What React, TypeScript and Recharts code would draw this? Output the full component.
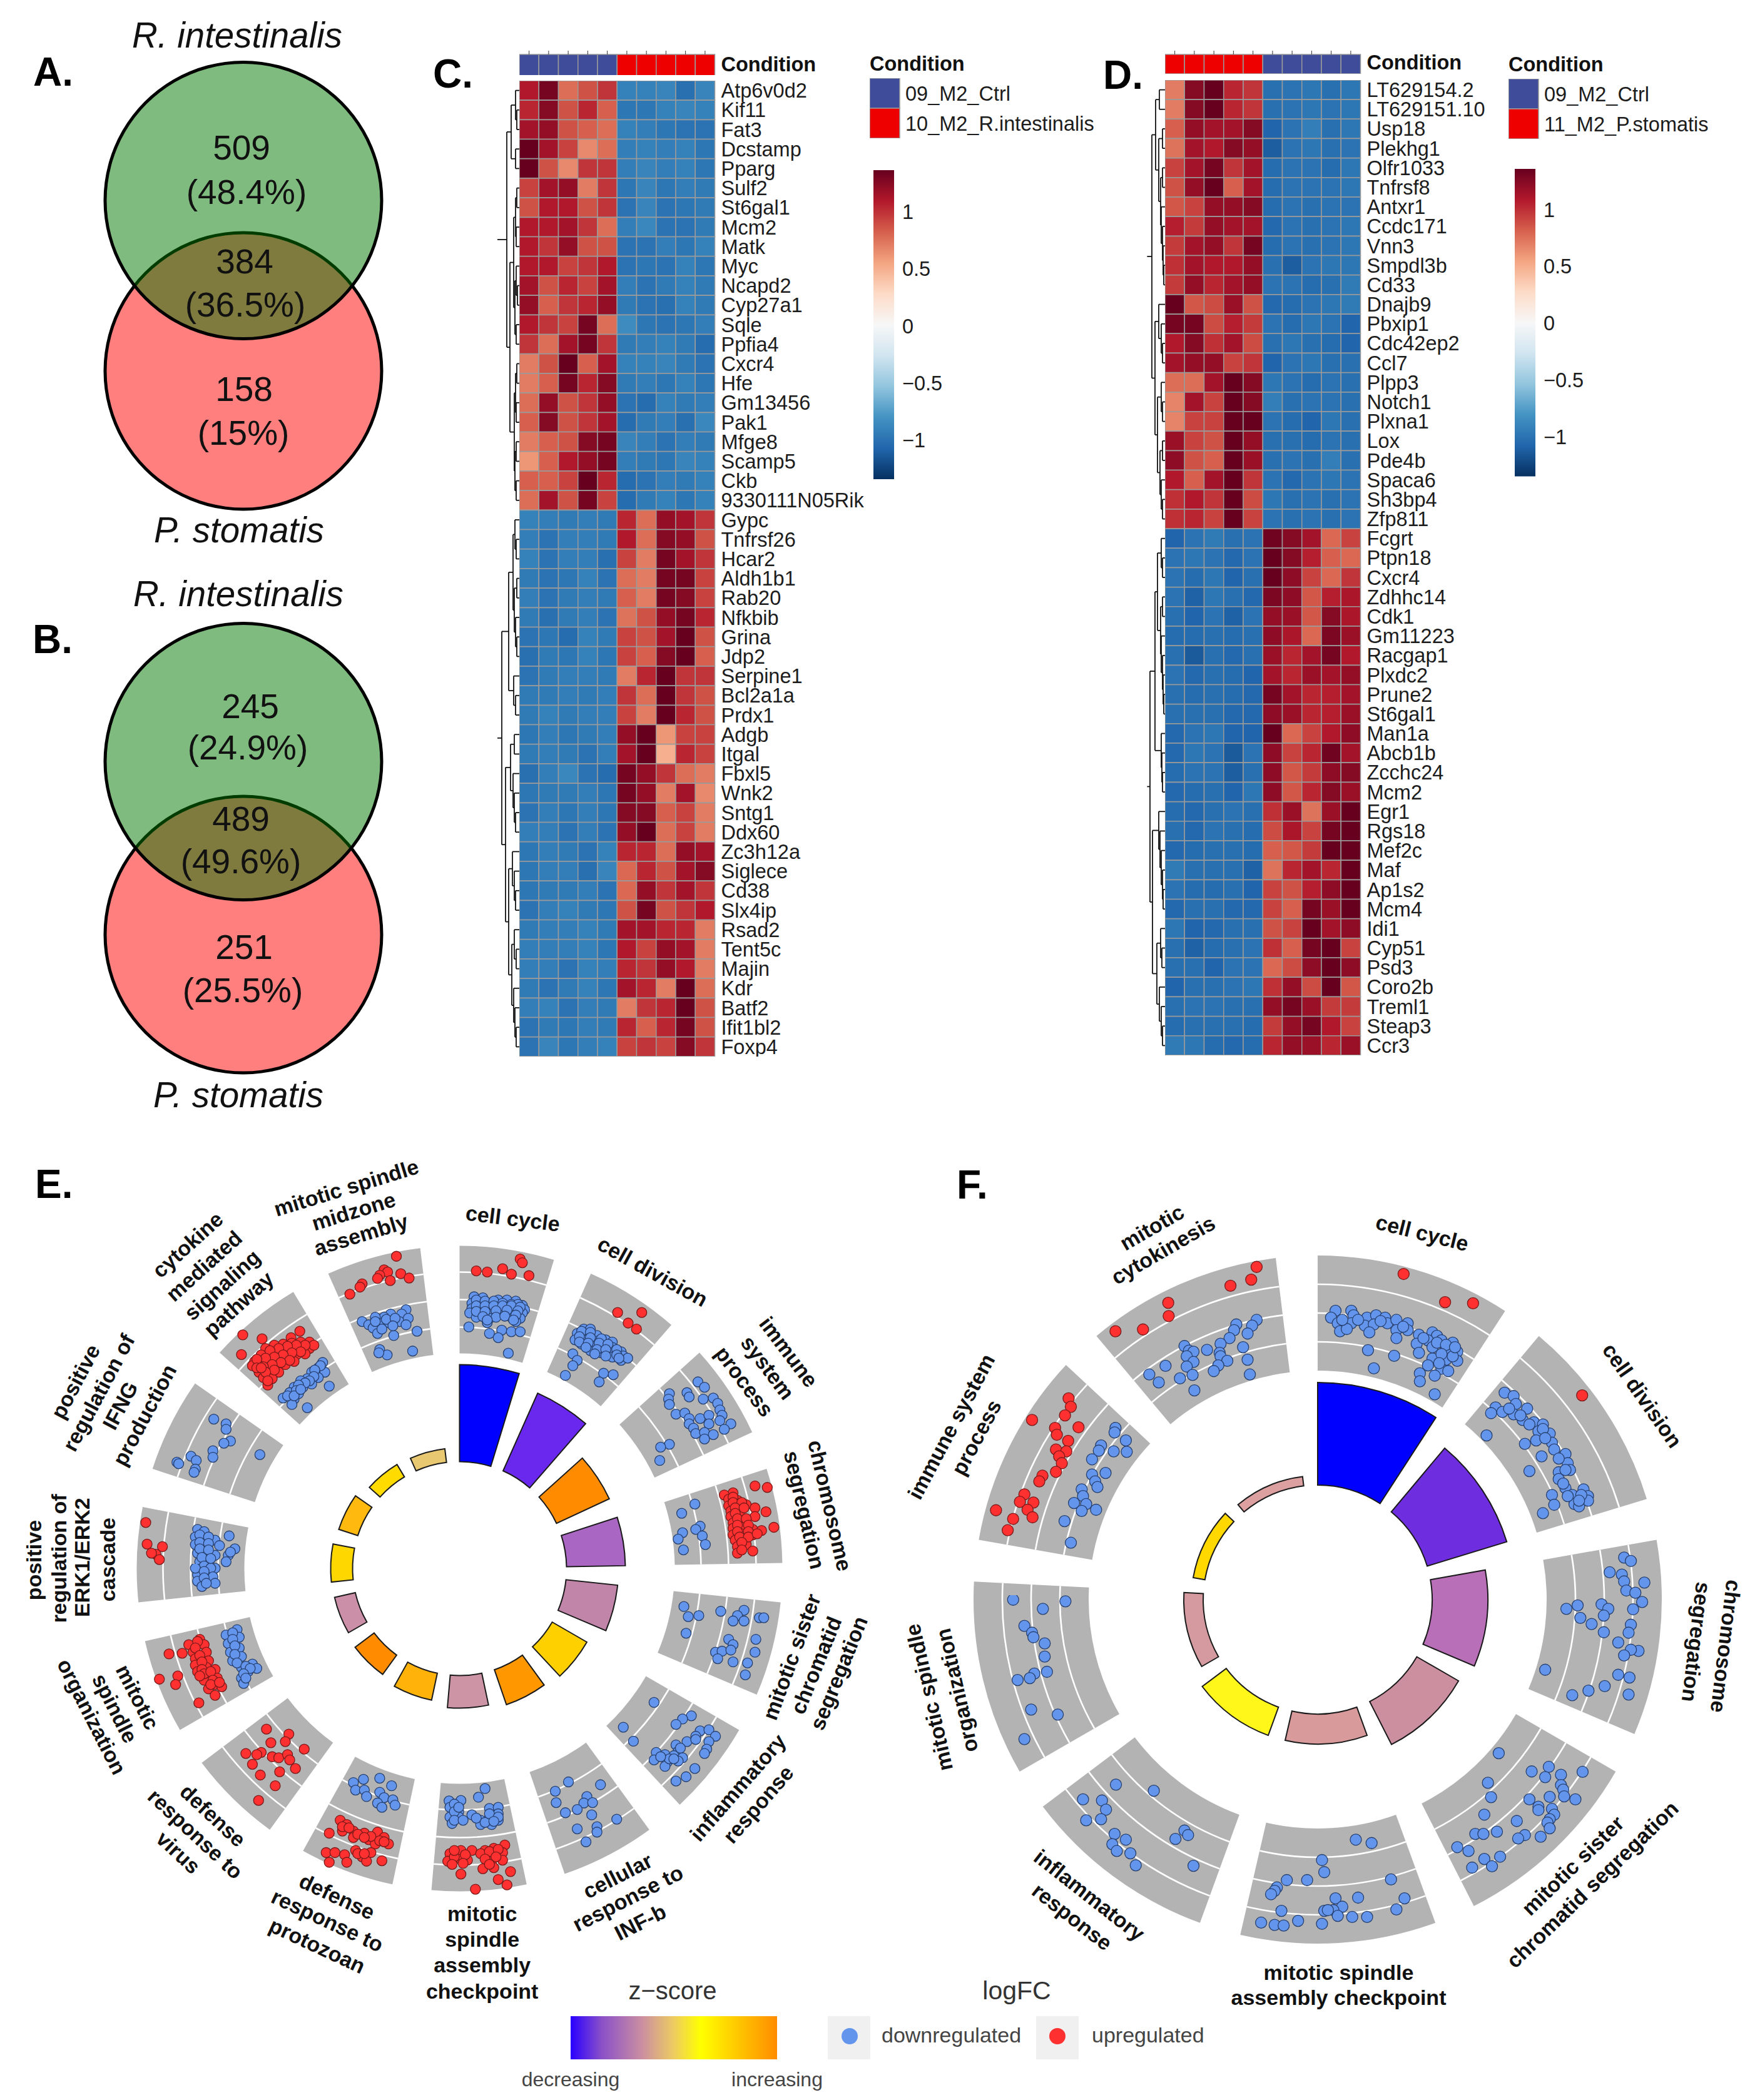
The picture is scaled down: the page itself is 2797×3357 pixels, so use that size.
import React from 'react';
import {
  BarChart, Bar, Cell, XAxis, YAxis, PieChart, Pie, ScatterChart, Scatter, ReferenceLine,
} from 'recharts';

const FONT = '"Liberation Sans", Arial, sans-serif';

// ---- Venn counts
const vennA = [['509', '(48.4%)'], ['384', '(36.5%)'], ['158', '(15%)']];
const vennB = [['245', '(24.9%)'], ['489', '(49.6%)'], ['251', '(25.5%)']];

// ---- Heatmap C
const genesC = ['Atp6v0d2', 'Kif11', 'Fat3', 'Dcstamp', 'Pparg', 'Sulf2', 'St6gal1', 'Mcm2', 'Matk', 'Myc', 'Ncapd2', 'Cyp27a1', 'Sqle', 'Ppfia4', 'Cxcr4', 'Hfe', 'Gm13456', 'Pak1', 'Mfge8', 'Scamp5', 'Ckb', '9330111N05Rik', 'Gypc', 'Tnfrsf26', 'Hcar2', 'Aldh1b1', 'Rab20', 'Nfkbib', 'Grina', 'Jdp2', 'Serpine1', 'Bcl2a1a', 'Prdx1', 'Adgb', 'Itgal', 'Fbxl5', 'Wnk2', 'Sntg1', 'Ddx60', 'Zc3h12a', 'Siglece', 'Cd38', 'Slx4ip', 'Rsad2', 'Tent5c', 'Majin', 'Kdr', 'Batf2', 'Ifit1bl2', 'Foxp4'];
const zC = [
  [1, 1.2, .7, .8, .9, -.92, -.92, -.9, -1.02, -.9],
  [.95, 1.15, .8, .95, .75, -.98, -.98, -.92, -.9, -.92],
  [1.05, 1.1, .8, .75, .7, -.92, -.94, -.98, -1, -1],
  [1.3, 1.05, .85, .6, .7, -.94, -.92, -.94, -.92, -.98],
  [1.3, .8, .6, .9, .9, -.94, -.9, -.94, -.92, -.98],
  [.85, 1.05, 1.1, .65, .9, -.98, -.9, -.98, -.94, -.96],
  [.8, 1, 1, .8, .9, -1, -.9, -1, -.98, -.96],
  [1, 1, 1.05, .9, .7, -.94, -.88, -1, -1, -.96],
  [1, .9, 1.1, .8, .8, -1, -1, -.94, -.98, -.92],
  [1, 1, .85, .9, 1, -1, -.98, -1, -.92, -.98],
  [1.05, .8, .95, .85, 1.05, -.94, -1, -.96, -.92, -.96],
  [1.1, .75, .9, .95, 1.1, -.96, -1, -1.02, -.92, -.96],
  [1, .9, .85, 1.2, .7, -.86, -.98, -1, -.98, -.94],
  [.9, .7, 1.05, 1.2, .9, -.96, -.94, -.92, -.96, -1.04],
  [.65, .8, 1.3, .75, 1.05, -.92, -.92, -.9, -.96, -1],
  [.65, .75, 1.2, .95, 1.15, -.96, -.94, -.98, -.92, -.98],
  [.7, 1.1, .8, .9, 1.1, -1, -1.04, -.92, -.96, -.94],
  [.75, 1.15, .8, .9, 1.05, -1.04, -.96, -.94, -1.02, -.88],
  [.65, .75, .8, 1.15, 1.2, -.9, -.94, -1, -.94, -.96],
  [.55, .75, 1, 1.1, 1.2, -.94, -.96, -.98, -.9, -.92],
  [.75, .75, .85, 1.25, .95, -1.04, -1, -.94, -.96, -.92],
  [.7, 1.05, .8, 1.2, .85, -1.04, -.96, -.92, -.98, -.92],
  [-.92, -.94, -.96, -.94, -.96, .95, .7, 1.1, 1.05, .9],
  [-.94, -1, -.94, -.94, -.96, 1, .7, 1.15, 1.1, .8],
  [-.92, -1, -.94, -.94, -1.02, .85, .65, 1.2, 1.05, .9],
  [-.96, -1, -.98, -.92, -1, .7, .65, 1.2, 1.2, .85],
  [-.94, -1, -.96, -.94, -.96, .75, .65, 1.2, 1.15, .85],
  [-.96, -1.02, -.96, -.94, -1, .68, .8, 1.1, 1.2, .95],
  [-1, -.98, -1.04, -.92, -.96, .85, .8, 1.05, 1.25, .8],
  [-1.02, -.96, -.98, -.92, -.98, .85, .75, 1.15, 1.25, .75],
  [-1, -.96, -.94, -.94, -.96, .65, .95, 1.25, .9, .9],
  [-.96, -.96, -.94, -.96, -.94, .9, .7, 1.4, .9, .8],
  [-.96, -.92, -.96, -.94, -.94, .85, .65, 1.4, .95, .8],
  [-.98, -.94, -.98, -.96, -.94, 1.1, 1.25, .55, .85, .85],
  [-.96, -.94, -.96, -1, -.94, 1.05, 1.3, .45, .95, .85],
  [-1.02, -.94, -.88, -1, -1.04, 1.2, 1.1, .9, .7, .65],
  [-.98, -.96, -.96, -.94, -.98, 1.2, 1.1, .65, 1.05, .6],
  [-1, -.94, -.98, -.94, -.98, 1.15, 1.15, .75, .85, .65],
  [-.94, -.94, -1, -.94, -1, 1.1, 1.25, .7, .85, .65],
  [-.98, -.94, -.96, -1, -.92, .95, .95, .7, 1.1, 1.05],
  [-.98, -.94, -.94, -1.02, -.9, .72, .95, .8, 1.05, 1.15],
  [-.98, -.96, -.96, -.94, -1, .72, 1.1, .9, 1.05, .9],
  [-1, -.94, -.92, -.96, -.98, .8, 1.2, .8, .9, 1],
  [-.96, -.94, -.94, -.92, -.96, 1.05, 1.05, .95, .95, .65],
  [-.94, -.94, -.94, -.92, -.98, 1, .85, 1.1, 1.05, .65],
  [-.94, -.94, -1, -.92, -.94, .95, .9, 1.1, 1, .65],
  [-.96, -1, -.96, -.92, -.98, 1.05, .95, .65, 1.25, .7],
  [-.94, -.92, -1, -.94, -.96, .65, .9, .95, 1.25, .8],
  [-1, -.96, -.98, -.94, -.96, .95, .75, .95, 1.2, .8],
  [-1, -.9, -.98, -.94, -.92, .85, .9, .85, 1.15, .9],
];

// ---- Heatmap D
const genesD = ['LT629154.2', 'LT629151.10', 'Usp18', 'Plekhg1', 'Olfr1033', 'Tnfrsf8', 'Antxr1', 'Ccdc171', 'Vnn3', 'Smpdl3b', 'Cd33', 'Dnajb9', 'Pbxip1', 'Cdc42ep2', 'Ccl7', 'Plpp3', 'Notch1', 'Plxna1', 'Lox', 'Pde4b', 'Spaca6', 'Sh3bp4', 'Zfp811', 'Fcgrt', 'Ptpn18', 'Cxcr4', 'Zdhhc14', 'Cdk1', 'Gm11223', 'Racgap1', 'Plxdc2', 'Prune2', 'St6gal1', 'Man1a', 'Abcb1b', 'Zcchc24', 'Mcm2', 'Egr1', 'Rgs18', 'Mef2c', 'Maf', 'Ap1s2', 'Mcm4', 'Idi1', 'Cyp51', 'Psd3', 'Coro2b', 'Treml1', 'Steap3', 'Ccr3'];
const zD = [
  [.65, 1.15, 1.35, .95, .9, -1.02, -1, -.98, -1.02, -.98],
  [.65, 1.15, 1.35, .95, .9, -1.02, -1, -.98, -1, -.98],
  [.75, 1.1, 1.05, 1.05, 1.15, -1.08, -1, -.94, -1.02, -.98],
  [.68, 1.05, 1, 1.15, 1.1, -1.12, -1, -.98, -1.02, -1],
  [.85, 1.05, 1.2, .9, 1.05, -1.04, -1, -1, -1.04, -.98],
  [.8, 1.1, 1.25, .75, 1.05, -1.04, -1, -1, -1, -.98],
  [.78, .85, 1.1, 1.1, 1.15, -1.04, -1, -1.02, -1, -1],
  [.98, .88, 1.1, 1.05, 1.05, -1.06, -1, -1.02, -1, -.98],
  [.88, 1.05, 1.1, .9, 1.2, -1.04, -1, -1.02, -1, -.98],
  [.92, 1.05, 1, 1, 1.1, -1.02, -1.12, -1, -.98, -.98],
  [.88, 1.1, .95, 1.05, 1.1, -1, -1, -1.04, -1.02, -.96],
  [1.35, .78, .82, 1.08, .8, -1.06, -1.04, -1, -.98, -.96],
  [1.2, 1.2, .82, .98, .88, -1, -1.04, -.98, -1, -1.08],
  [1, 1.15, .92, 1.05, .82, -1.02, -.98, -1.02, -1.04, -1.08],
  [1.05, 1.1, 1.1, .85, .9, -1.08, -1, -.98, -1.02, -1.02],
  [.7, .7, 1.05, 1.3, 1.15, -.98, -1, -1.04, -1, -1.02],
  [.62, 1.05, .85, 1.3, 1.15, -.94, -1.02, -1, -1, -1.02],
  [.62, .85, .85, 1.3, 1.3, -1, -1.04, -1.08, -.98, -1.02],
  [1.08, .85, .8, 1.25, 1.1, -1.02, -1.02, -1.04, -1, -1.02],
  [1.12, .8, .75, 1.28, 1.08, -1.02, -1, -1.02, -.94, -1.02],
  [1, .75, 1.05, 1.35, .9, -1, -1.06, -1, -.98, -1],
  [.92, 1, .9, 1.28, .82, -.98, -1.02, -1, -1.02, -1],
  [.92, .95, .85, 1.25, .85, -1, -1.02, -1, -1.02, -1],
  [-1.08, -1, -.96, -1.02, -1, 1.22, 1.15, 1.05, .72, .85],
  [-1, -.98, -1, -1.06, -1, 1.35, 1.15, .98, .75, .72],
  [-1, -1.04, -.98, -1.08, -1.02, 1.38, 1.12, .85, .72, .9],
  [-1, -1.1, -.98, -1.02, -1.06, 1.18, 1.12, .78, .98, 1.02],
  [-1.02, -1.08, -1, -1.1, -1, 1.1, 1.08, .78, 1.15, 1.02],
  [-1.04, -1.04, -1.02, -1.04, -1.02, 1.12, 1.02, .72, 1.18, 1.08],
  [-1.02, -1.14, -1.02, -1.06, -1.02, 1.08, .95, 1.05, 1.2, 1],
  [-1, -1.06, -1.02, -1.04, -1.08, 1.05, .95, 1.08, 1.05, 1.1],
  [-1.02, -1.04, -1.02, -1.04, -1.06, 1.2, 1.05, .95, .98, 1.05],
  [-1.02, -1.02, -1.02, -1.06, -1.06, 1.12, 1.08, .95, .98, 1.08],
  [-1.06, -1, -.98, -1.08, -1.08, 1.3, .72, .85, 1, 1.12],
  [-1.06, -.98, -1, -1.14, -1, 1.12, .85, .95, 1.22, 1.05],
  [-1.04, -1, -1, -1.12, -1.02, 1.12, .78, .88, 1.12, 1.15],
  [-1.06, -1.04, -1.02, -1.08, -.98, 1.12, .78, .95, 1.15, 1.08],
  [-1.04, -1.06, -1.02, -1, -1.02, .92, 1.08, .68, 1.08, 1.28],
  [-1.02, -1.06, -1, -1.02, -1.04, .82, 1.02, .85, 1.2, 1.28],
  [-1.06, -1.04, -1.02, -1.02, -1.04, .75, .78, .88, 1.25, 1.35],
  [-.96, -1.02, -1.02, -1.02, -1.1, .68, .95, 1.05, .95, 1.38],
  [-1, -1.04, -1.04, -1.02, -1.08, .85, .8, .98, 1.12, 1.38],
  [-1.06, -1.02, -1.02, -1.06, -1.06, .85, .75, 1.2, 1.08, 1.25],
  [-.98, -1.08, -1.06, -1.02, -1.02, .8, .85, 1.32, 1.05, 1.12],
  [-1.02, -1.1, -1.04, -1.02, -1, .92, .75, 1.2, 1.28, .85],
  [-1.02, -1.02, -1.08, -1, -1, .72, .82, 1.12, 1.28, 1.12],
  [-1.08, -1.02, -1.02, -1, -.98, .92, 1.1, .82, 1.4, .78],
  [-1.02, -1, -1, -1.02, -1.02, 1.1, 1.2, 1.08, .88, .88],
  [-1.04, -1.02, -1.02, -1.02, -1.04, .88, 1.1, 1.2, 1, .85],
  [-.96, -.98, -1.04, -1.06, -1.04, .95, 1.1, 1.08, .95, 1.08],
];

const conditionC = ['Ctrl', 'Ctrl', 'Ctrl', 'Ctrl', 'Ctrl', 'Treated', 'Treated', 'Treated', 'Treated', 'Treated'];
const conditionD = ['Treated', 'Treated', 'Treated', 'Treated', 'Treated', 'Ctrl', 'Ctrl', 'Ctrl', 'Ctrl', 'Ctrl'];
const zTicks = [-1, -0.5, 0, 0.5, 1];
const rdBu = ['#053061', '#2166AC', '#4393C3', '#92C5DE', '#D1E5F0', '#F7F7F7', '#FDDBC7', '#F4A582', '#D6604D', '#B2182B', '#67001F'];

// ---- Dendrograms, nested merges [height, upper, lower], 0 is a leaf
const L: any = 0;
const m = (h: number, a: any, b: any) => [h, a, b];
const treesC = [
  m(20,
    m(13, m(6, L, m(4, L, L)), m(6, L, L)),
    m(15,
      m(9, m(6, m(4, L, L), m(5, L, L)), m(7, m(5, L, m(3, L, L)), m(5, L, L))),
      m(8, m(6, m(4, L, L), m(5, L, L)), m(7, m(5, L, L), m(5, L, L))))),
  m(28,
    m(17,
      m(10, m(7, L, m(5, L, L)), m(8, m(4, L, L), m(6, L, m(4, L, L)))),
      m(9, L, m(6, L, L))),
    m(22,
      m(14, m(8, L, L), m(10, L, m(8, L, m(6, L, L)))),
      m(17, m(11, L, m(8, L, m(6, L, L))), m(12, m(8, L, m(5, L, L)), m(9, L, m(7, L, m(5, L, L))))))),
];
const treesD = [
  m(21,
    m(15, m(9, L, L), m(10, m(4, L, L), m(7, m(4, L, L), m(6, L, m(4, L, m(3, L, m(2, L, L))))))),
    m(16, m(10, L, m(6, L, m(4, L, L))), m(12, m(6, L, m(4, L, L)), m(8, m(4, L, L), m(6, L, m(4, L, L)))))),
  m(24,
    m(16,
      m(12, m(6, L, m(4, L, L)), m(7, m(4, L, L), m(6, L, m(4, L, m(3, L, m(2, L, L)))))),
      m(6, L, m(5, L, m(4, L, L)))),
    m(20,
      m(10, L, m(8, L, m(6, L, m(4, L, m(3, L, L))))),
      m(13, m(7, L, m(5, L, L)), m(9, L, m(6, L, m(4, L, L)))))),
];

// ---- GO circle E (bar heights above the inner circle, logFC dots)
const eBarTop = [326, 307, 264, 265, 254, 235, 230, 223, 215, 209, 205, 206, 203, 194, 193];
const eBarColors = ['#0000FF', '#6A28EE', '#FF8C00', '#A966C2', '#C185AA', '#FFD000', '#FF9800', '#CD94A6', '#FFB30A', '#FF8C00', '#CC8FA8', '#FFD700', '#FFB90F', '#FFDB00', '#E8C870'];
const eGrid = [386, 430, 474];
const fBarTop = [347, 316, 272, 260, 231, 231, 214, 202, 198];
const fBarColors = ['#0000FF', '#6F2DE0', '#B86FB8', '#CC8FA0', '#D89A9A', '#FFF61A', '#D49AA0', '#FFD800', '#DDA0A0'];
const fGrid = [412, 458, 504];

const eTopUp = [[618, 82], [590, 145], [598, 155], [580, 170], [575, 185], [604, 195], [628, 163], [647, 183], [540, 210], [535, 225], [512, 258],
  [800, 150], [825, 155], [860, 140], [880, 165], [900, 95], [905, 112], [920, 172], [1122, 343], [1177, 343], [1146, 392], [1165, 420],
  [1385, 1180], [1365, 1190], [1375, 1210], [1395, 1215], [1375, 1240], [1395, 1240], [1415, 1235], [1380, 1265], [1400, 1260], [1435, 1250], [1380, 1290], [1400, 1285], [1435, 1290], [1385, 1320], [1405, 1310], [1385, 1345], [1405, 1340], [1430, 1350], [1385, 1375], [1405, 1370], [1430, 1375], [1450, 1355], [1390, 1400], [1410, 1395], [1395, 1430], [1415, 1420], [1395, 1460], [1430, 1450], [1435, 1148], [1463, 1155], [1460, 1268], [1478, 1340],
  [1385, 1200], [1385, 1225], [1405, 1225], [1390, 1250], [1410, 1250], [1390, 1275], [1395, 1300], [1415, 1300], [1395, 1330], [1420, 1330], [1395, 1360], [1420, 1360], [1400, 1385], [1420, 1385], [1405, 1410], [1405, 1445], [1440, 1370],
  [268, 447], [312, 465], [398, 430], [378, 460], [265, 538], [420, 480], [400, 480], [380, 485], [360, 490], [340, 495], [320, 510], [420, 510], [400, 510], [380, 510], [360, 520], [340, 530], [310, 540], [295, 570], [290, 590], [410, 535], [390, 540], [370, 550], [350, 560], [330, 570], [310, 575], [385, 570], [365, 585], [345, 595], [325, 600], [305, 620], [350, 620], [330, 630], [315, 645], [335, 650], [325, 680],
  [430, 495], [410, 495], [390, 495], [370, 500], [350, 510], [330, 520], [400, 525], [380, 530], [360, 540], [340, 550], [320, 555], [300, 560], [375, 565], [355, 575], [335, 585], [315, 595], [300, 600], [340, 610], [320, 620], [325, 660], [310, 600],
  [47, 1318], [50, 1418], [85, 1430], [70, 1465], [78, 1490], [60, 1460]];
const eTopDown = [[640, 330], [630, 350], [605, 350], [590, 365], [570, 365], [540, 385], [555, 400], [580, 395], [600, 390], [625, 385], [645, 370], [640, 400], [665, 430], [565, 415], [575, 440], [612, 450], [580, 515], [597, 540], [578, 530], [655, 522], [595, 375], [615, 370], [570, 385], [610, 405], [585, 420],
  [795, 270], [815, 275], [790, 300], [810, 300], [830, 300], [850, 285], [870, 285], [890, 290], [905, 310], [790, 325], [810, 325], [830, 325], [850, 320], [870, 320], [890, 325], [910, 330], [785, 345], [810, 350], [835, 350], [860, 345], [880, 345], [905, 345], [800, 365], [830, 370], [880, 365], [900, 370], [825, 390], [890, 385], [783, 410], [830, 440], [858, 425], [880, 432], [900, 432], [850, 460], [873, 532],
  [800, 285], [820, 290], [840, 290], [860, 300], [880, 305], [895, 305], [800, 312], [820, 312], [840, 312], [860, 312], [880, 312], [900, 318], [800, 338], [820, 338], [845, 335], [870, 332], [895, 335], [815, 362], [845, 365], [865, 360], [890, 355], [825, 378], [885, 378],
  [1045, 420], [1060, 420], [1030, 440], [1050, 445], [1075, 450], [1025, 470], [1045, 470], [1070, 475], [1095, 470], [1110, 480], [1040, 490], [1065, 500], [1085, 500], [1110, 505], [1130, 525], [1060, 520], [1085, 530], [1105, 530], [1135, 545], [1020, 535], [1030, 565], [1110, 550], [1130, 565], [1145, 555], [1020, 590], [1003, 635], [1090, 625], [1112, 632], [1080, 665],
  [1040, 430], [1035, 455], [1060, 435], [1060, 460], [1085, 465], [1035, 480], [1055, 485], [1080, 485], [1100, 490], [1050, 505], [1075, 515], [1095, 515], [1120, 515], [1070, 535], [1095, 545], [1120, 540], [1125, 555],
  [1305, 665], [1320, 690], [1240, 720], [1238, 745], [1240, 770], [1280, 715], [1285, 735], [1317, 745], [1340, 740], [1350, 765], [1255, 815], [1275, 810], [1285, 835], [1310, 835], [1330, 820], [1355, 795], [1360, 820], [1355, 845], [1380, 860], [1365, 885], [1285, 860], [1295, 880], [1330, 860], [1300, 905], [1320, 900], [1340, 910], [1320, 930], [1240, 955], [1220, 968], [1218, 1030],
  [1298, 1232], [1268, 1275], [1310, 1335], [1300, 1350], [1315, 1380], [1322, 1420], [1270, 1365], [1260, 1395], [1272, 1445],
  [450, 575], [440, 600], [455, 620], [425, 620], [440, 645], [415, 650], [400, 660], [425, 675], [405, 690], [385, 690], [465, 685], [395, 720], [375, 715], [360, 740], [385, 745], [380, 770], [415, 785],
  [445, 590], [432, 610], [430, 640], [420, 660], [410, 670], [395, 680], [390, 705], [370, 730], [385, 730], [400, 700],
  [202, 838], [230, 860], [230, 885], [240, 940], [225, 950], [200, 985], [200, 1015], [150, 1010], [162, 1030], [118, 1038], [122, 1045], [160, 1070], [157, 1085], [307, 1003],
  [165, 1350], [180, 1360], [160, 1385], [175, 1400], [205, 1400], [215, 1425], [237, 1380], [250, 1440], [235, 1470], [230, 1500], [160, 1420], [180, 1430], [165, 1460], [185, 1465], [170, 1500], [190, 1500], [205, 1470], [165, 1535], [190, 1540], [205, 1530],
  [170, 1375], [190, 1385], [170, 1410], [190, 1415], [170, 1440], [190, 1445], [175, 1480], [195, 1485], [180, 1520], [175, 1550], [240, 1455]];
const eLowDown = [[165, 50], [195, 20], [165, 80], [200, 60], [175, 105], [205, 90], [160, 20], [180, 35], [180, 65], [185, 90],
  [1273, 198], [1283, 245], [1307, 240], [1278, 322], [1357, 220], [1410, 215], [1395, 240], [1385, 265], [1410, 265], [1445, 250], [1455, 250], [1375, 350], [1385, 375], [1437, 350], [1345, 410], [1360, 405], [1380, 400], [1350, 440], [1385, 455], [1435, 410], [1418, 460], [1413, 515],
  [1205, 643], [1135, 758], [1158, 823], [1290, 705], [1270, 720], [1255, 745], [1310, 775], [1330, 770], [1345, 800], [1300, 800], [1280, 825], [1255, 840], [1330, 825], [1325, 860], [1320, 880], [1260, 870], [1210, 875], [1230, 885], [1250, 890], [1270, 900], [1205, 910], [1235, 920], [1260, 915], [1230, 940], [1298, 950], [1278, 988], [1255, 1008], [1240, 905], [1250, 905], [1220, 895], [1300, 815], [1265, 855],
  [1010, 1012], [1083, 1025], [980, 1055], [982, 1108], [1003, 1155], [1052, 1080], [1045, 1110], [1065, 1108], [1030, 1140], [1063, 1165], [1120, 1185], [1075, 1220], [1075, 1245], [1030, 1230], [1050, 1290],
  [820, 1043], [805, 1083], [765, 1098], [738, 1100], [740, 1130], [760, 1150], [740, 1175], [760, 1175], [790, 1165], [830, 1135], [850, 1130], [850, 1160], [810, 1190], [830, 1180], [850, 1190], [810, 1210], [835, 1210], [745, 1205],
  [750, 1115], [750, 1150], [750, 1190], [770, 1190], [800, 1180], [820, 1200], [830, 1160], [850, 1175], [840, 1195], [760, 1130],
  [520, 1015], [543, 1000], [580, 995], [607, 1030], [525, 1050], [545, 1050], [580, 1060], [550, 1080], [590, 1085], [575, 1110], [610, 1095], [615, 1120], [585, 1130],
  [255, 305], [230, 330], [260, 340], [235, 370], [260, 390], [240, 410], [265, 430], [245, 450], [265, 480], [290, 465], [300, 485], [280, 500], [265, 530], [270, 555],
  [245, 320], [245, 350], [250, 380], [250, 420], [255, 460], [275, 475], [285, 485], [270, 510], [275, 530]];
const eLowUp = [[740, 1345], [765, 1330], [790, 1330], [735, 1380], [765, 1370], [780, 1375], [820, 1330], [840, 1320], [865, 1305], [830, 1350], [860, 1340], [835, 1380], [860, 1375], [815, 1415], [840, 1410], [765, 1440], [878, 1428], [850, 1465], [870, 1490], [798, 1510],
  [750, 1360], [775, 1350], [750, 1330], [810, 1345], [830, 1335], [850, 1325], [845, 1360], [820, 1370], [830, 1395], [745, 1395], [770, 1390],
  [490, 1190], [505, 1210], [495, 1240], [520, 1240], [545, 1250], [575, 1245], [590, 1270], [465, 1250], [520, 1270], [555, 1280], [600, 1300], [570, 1300], [458, 1340], [478, 1340], [525, 1330], [560, 1340], [540, 1360], [550, 1380], [500, 1350], [505, 1385], [465, 1385], [585, 1378],
  [495, 1220], [510, 1225], [530, 1255], [560, 1265], [580, 1285], [590, 1290], [545, 1270], [530, 1345], [545, 1345],
  [322, 767], [373, 790], [365, 825], [332, 830], [408, 860], [275, 880], [310, 875], [300, 885], [335, 895], [350, 900], [370, 885], [375, 910], [388, 950], [290, 930], [308, 980], [352, 965], [342, 1030], [304, 1098],
  [170, 350], [145, 375], [180, 375], [130, 415], [155, 410], [185, 410], [160, 440], [190, 450], [160, 470], [185, 480], [205, 490], [165, 500], [190, 520], [210, 530], [180, 540], [205, 560], [220, 570], [190, 580], [205, 610], [100, 418], [120, 520], [115, 560], [78, 535], [168, 645],
  [165, 360], [160, 390], [170, 425], [175, 455], [175, 490], [180, 510], [195, 500], [200, 540], [195, 560], [170, 520], [215, 550]];

const fTopUp = [[650, 97], [638, 153], [592, 180], [454, 255], [455, 313], [398, 372], [337, 380], [976, 128], [1068, 252], [1130, 257], [1372, 662],
  [233, 675], [238, 712], [225, 750], [152, 770], [255, 802], [203, 805], [207, 835], [232, 862], [205, 900], [228, 908], [212, 930], [218, 960], [205, 998], [175, 1015], [168, 1040], [135, 1097], [125, 1130], [155, 1133], [142, 1165], [72, 1167], [110, 1205], [153, 1198], [98, 1255]];
const fTopDown = [[650, 330], [640, 355], [630, 390], [605, 350], [600, 375], [590, 410], [570, 435], [540, 462], [490, 445], [500, 465], [510, 470], [495, 490], [510, 515], [495, 535], [620, 450], [568, 475], [570, 490], [585, 510], [565, 530], [555, 555], [630, 505], [635, 570], [448, 532], [412, 570], [433, 605], [480, 587], [508, 572], [512, 640],
  [825, 290], [815, 320], [830, 345], [835, 380], [860, 290], [865, 310], [860, 345], [850, 370], [895, 320], [915, 310], [935, 320], [890, 355], [910, 350], [900, 385], [940, 345], [960, 330], [985, 345], [960, 375], [985, 375], [960, 410], [1010, 395], [1005, 435], [1010, 475], [1040, 385], [1050, 400], [1030, 420], [1060, 420], [1085, 430], [1040, 450], [1070, 460], [1095, 470], [1095, 510], [1040, 500], [1070, 505], [1060, 545], [1075, 555], [1045, 575], [1030, 530], [1012, 565], [1012, 600], [897, 463], [955, 488], [910, 543], [1045, 657],
  [840, 330], [875, 330], [925, 335], [975, 360], [1020, 410], [1050, 430], [1070, 440], [1060, 480], [1085, 490], [1055, 520], [1090, 450],
  [1200, 650], [1220, 665], [1180, 715], [1170, 740], [1195, 735], [1225, 700], [1220, 745], [1250, 720], [1240, 770], [1265, 780], [1285, 790], [1245, 875], [1275, 820], [1270, 860], [1300, 830], [1305, 870], [1160, 838], [1282, 930], [1310, 900], [1335, 920], [1340, 960], [1320, 1000], [1345, 990], [1255, 995], [1320, 1030], [1335, 1070], [1375, 1075], [1385, 1105], [1305, 1100], [1350, 1100], [1385, 1125], [1355, 1140], [1310, 1143], [1285, 1180], [1365, 1150],
  [1210, 720], [1235, 750], [1255, 790], [1285, 810], [1290, 850], [1320, 940], [1335, 990], [1330, 1050], [1370, 1100], [1340, 1105], [1365, 1125],
  [1465, 1375], [1480, 1390], [1433, 1440], [1460, 1450], [1465, 1480], [1510, 1485], [1470, 1520], [1490, 1530],
  [337, 805], [335, 825], [360, 860], [305, 882], [300, 905], [333, 908], [362, 910], [285, 943], [315, 1003], [285, 1010], [292, 1040], [262, 1075], [297, 1065], [265, 1105], [245, 1135], [272, 1140], [262, 1170], [294, 1165], [224, 1215], [238, 1310]];
const fLowDown = [[1337, 60], [1362, 45], [1368, 100], [1393, 127], [1420, 163], [1415, 40], [1430, 60], [1420, 90], [1505, 30], [1485, 62], [1480, 130], [1475, 165], [1452, 208], [1497, 245], [1480, 240], [1465, 265], [1290, 328], [1452, 350], [1477, 362], [1422, 400], [1386, 420], [1350, 440], [1475, 437],
  [110, 20], [226, 27], [176, 60], [135, 135], [152, 165], [155, 185], [180, 212], [180, 270], [185, 337], [157, 345], [147, 365], [120, 373], [150, 503], [209, 525], [135, 633],
  [1187, 695], [1298, 755], [1260, 775], [1325, 790], [1290, 800], [1373, 777], [1163, 825], [1325, 835], [1330, 855], [1170, 888], [1255, 898], [1300, 887], [1332, 885], [1357, 898], [1275, 930], [1275, 945], [1305, 940], [1155, 965], [1310, 965], [1300, 985], [1227, 993], [1295, 1000], [1300, 1025], [1135, 1050], [1153, 1050], [1183, 1040], [1245, 1055], [1230, 1070], [1280, 1062], [1095, 1108], [1120, 1125], [1155, 1160], [1190, 1150], [1172, 1192], [1128, 1198],
  [870, 1075], [905, 1090], [795, 1165], [800, 1218], [717, 1253], [762, 1253], [695, 1285], [690, 1300], [682, 1315], [948, 1250], [825, 1333], [875, 1330], [978, 1333], [960, 1382], [840, 1370], [820, 1385], [800, 1388], [808, 1385], [830, 1410], [705, 1388], [862, 1415], [895, 1415], [742, 1432], [795, 1445], [660, 1440], [690, 1450], [710, 1453],
  [338, 833], [422, 860], [265, 898], [307, 903], [316, 943], [272, 990], [305, 985], [335, 1050], [360, 1075], [470, 1072], [490, 1035], [498, 1055], [330, 1095], [340, 1125], [370, 1135], [382, 1188], [510, 1190]];

// term labels: text, centre in the crop units, rotation
const eLabels: [string, number, number, number][] = [
  ['cell cycle', 905, 143, 7], ['cell division', 1152, 238, 29],
  ['immune', 1392, 382, 53], ['system', 1355, 410, 53], ['process', 1314, 435, 53],
  ['chromosome', 1465, 657, 77], ['segregation', 1420, 665, 77],
  ['mitotic sister', 1397, 928, -70], ['chromatid', 1440, 943, -68], ['segregation', 1480, 957, -68],
  ['inflammatory', 1302, 1162, -49], ['response', 1338, 1192, -49],
  ['cellular', 1090, 1320, -27], ['response to', 1108, 1360, -27], ['INF-b', 1130, 1403, -27],
  ['mitotic', 851, 1388, 0], ['spindle', 851, 1434, 0], ['assembly', 851, 1480, 0], ['checkpoint', 851, 1526, 0],
  ['defense', 595, 1357, 25], ['response to', 578, 1400, 25], ['protozoan', 560, 1445, 25],
  ['defense', 376, 1212, 43], ['response to', 345, 1245, 43], ['virus', 315, 1278, 43],
  ['mitotic', 243, 1000, 63], ['spindle', 203, 1020, 63], ['organization', 162, 1035, 63],
  ['positive', 60, 755, -90], ['regulation of', 104, 752, -90], ['ERK1/ERK2', 145, 750, -90], ['cascade', 190, 754, -90],
  ['positive', 133, 435, -62], ['regulation of', 174, 455, -62], ['IFNG', 212, 478, -62], ['production', 255, 495, -62],
  ['cytokine', 331, 190, -42], ['mediated', 360, 228, -42], ['signaling', 392, 262, -42], ['pathway', 421, 296, -42],
  ['mitotic spindle', 611, 88, -17], ['midzone', 624, 130, -17], ['assembly', 637, 172, -17],
];
const fLabels: [string, number, number, number][] = [
  ['cell cycle', 980, 140, 14], ['cell division', 1375, 442, 55],
  ['chromosome', 1525, 908, 97], ['segregation', 1472, 900, 97],
  ['mitotic sister', 1250, 1315, -44], ['chromatid segregation', 1285, 1350, -44],
  ['mitotic spindle', 830, 1513, 0], ['assembly checkpoint', 830, 1560, 0],
  ['inflammatory', 383, 1370, 38], ['response', 352, 1410, 38],
  ['mitotic spindle', 95, 1003, -103], ['organization', 145, 990, -103],
  ['immune system', 135, 500, -62], ['process', 180, 520, -62],
  ['mitotic', 495, 130, -30], ['cytokinesis', 515, 172, -30],
];

const COLS = [0, 1, 2, 3, 4, 5, 6, 7, 8, 9];
const STACK = Object.fromEntries(COLS.map((c) => [`s${c}`, 1]));

const hex = (s: string) => [1, 3, 5].map((i) => parseInt(s.slice(i, i + 2), 16));
// cell colour, the red half saturates a little before the end of the colour bar
const zColor = (z: number) => {
  const raw = z < 0 ? (z + 1.35) / 0.27 : 5 + z / 0.25;
  const pos = Math.max(0, Math.min(9.999, raw));
  const i = Math.floor(pos);
  const a = hex(rdBu[i]);
  const b = hex(rdBu[i + 1]);
  const c = a.map((v, k) => Math.round(v + (b[k] - v) * (pos - i)));
  return `rgb(${c[0]},${c[1]},${c[2]})`;
};

const box = (left: number, top: number): React.CSSProperties => ({ position: 'absolute', left, top });
const geneTick = { fontSize: 32.5, fontFamily: FONT, fill: '#1c1c1c' };

function Heatmap({ left, top, width, height, genes, z }: any) {
  const rows = genes.map((gene: string) => ({ gene, ...STACK }));
  return (
    <div style={box(left, top)}>
      <BarChart width={width + 300} height={height} data={rows} layout="vertical" margin={{ top: 0, right: 0, bottom: 0, left: 0 }} barCategoryGap={0}>
        <XAxis type="number" domain={[0, 10]} hide />
        <YAxis type="category" dataKey="gene" orientation="right" width={300} axisLine={false} tickLine={false} tickSize={0} tickMargin={10} interval={0} tick={geneTick} />
        {COLS.map((c) => (
          <Bar key={c} dataKey={`s${c}`} stackId="h" stroke="#9a9a9a" strokeWidth={1.5} isAnimationActive={false}>
            {z.map((r: number[], i: number) => <Cell key={i} fill={zColor(r[c])} />)}
          </Bar>
        ))}
      </BarChart>
    </div>
  );
}

function ConditionRow({ left, top, width, height, condition }: any) {
  return (
    <div style={box(left, top - 7)}>
      <BarChart width={width + 300} height={height + 7} data={[{ name: 'Condition', ...STACK }]} layout="vertical" margin={{ top: 0, right: 0, bottom: 0, left: 0 }} barCategoryGap={0}>
        <XAxis type="number" orientation="top" domain={[0, 10]} ticks={COLS.map((c) => c + 0.5)} interval={0} height={7} tickSize={6} axisLine={false} tickLine={{ stroke: '#333' }} tickFormatter={() => ''} />
        <YAxis type="category" dataKey="name" orientation="right" width={300} axisLine={false} tickLine={false} tickSize={0} tickMargin={10} tick={{ ...geneTick, fontWeight: 'bold', fill: '#111' }} />
        {COLS.map((c) => (
          <Bar key={c} dataKey={`s${c}`} stackId="c" stroke="#9a9a9a" strokeWidth={1.5} fill={condition[c] === 'Ctrl' ? '#3F4C9A' : '#EE0000'} isAnimationActive={false} />
        ))}
      </BarChart>
    </div>
  );
}

function ConditionKey({ left, top, names }: any) {
  const rows = names.map((name: string) => ({ name, v: 1 }));
  return (
    <div style={box(left, top)}>
      <BarChart width={408} height={96} data={rows} layout="vertical" margin={{ top: 0, right: 0, bottom: 0, left: 0 }} barCategoryGap={0}>
        <XAxis type="number" domain={[0, 1]} hide />
        <YAxis type="category" dataKey="name" orientation="right" width={360} axisLine={false} tickLine={false} tickSize={0} tickMargin={9} interval={0} tick={geneTick} />
        <Bar dataKey="v" stroke="#9a9a9a" strokeWidth={1.5} isAnimationActive={false}>
          <Cell fill="#3F4C9A" />
          <Cell fill="#EE0000" />
        </Bar>
      </BarChart>
    </div>
  );
}

function ColorBar({ id, left, top, height, domain }: any) {
  return (
    <div style={box(left, top)}>
      <BarChart width={133} height={height} data={[{ name: 'z', span: domain }]} margin={{ top: 0, right: 0, bottom: 0, left: 0 }} barCategoryGap={0}>
        <defs>
          <linearGradient id={id} x1="0" y1="1" x2="0" y2="0">
            {rdBu.map((c, i) => <stop key={c} offset={i / 10} stopColor={c} />)}
          </linearGradient>
        </defs>
        <XAxis dataKey="name" hide />
        <YAxis orientation="right" width={100} domain={domain} ticks={zTicks} interval={0} axisLine={false} tickLine={false} tickSize={0} tickMargin={13} tick={geneTick} tickFormatter={(v: number) => String(v).replace('-', '\u2212')} />
        <Bar dataKey="span" fill={`url(#${id})`} isAnimationActive={false} />
      </BarChart>
    </div>
  );
}

function Dendrogram({ leafX, top, height, trees, count, stub }: any) {
  const segs: number[][] = [];
  let leaf = 0;
  const walk = (n: any): number[] => {
    if (n === 0) { leaf += 1; return [0, leaf - 0.5]; }
    const [h1, y1] = walk(n[1]);
    const [h2, y2] = walk(n[2]);
    segs.push([n[0], y1, n[0], y2]);
    segs.push([h1, y1, n[0], y1]);
    segs.push([h2, y2, n[0], y2]);
    return [n[0], (y1 + y2) / 2];
  };
  trees.forEach((t: any) => {
    const [hh, yy] = walk(t);
    segs.push([hh, yy, stub, yy]);
  });
  return (
    <div style={box(leafX - 45, top)}>
      <ScatterChart width={45} height={height} margin={{ top: 0, right: 0, bottom: 0, left: 0 }}>
        <XAxis type="number" dataKey="x" domain={[0, 45]} reversed hide />
        <YAxis type="number" dataKey="y" domain={[0, count]} reversed hide />
        <Scatter data={[{ x: 0, y: 0 }]} shape={() => <g />} isAnimationActive={false} />
        {segs.map((s, i) => (
          <ReferenceLine key={i} segment={[{ x: s[0], y: s[1] }, { x: s[2], y: s[3] }]} stroke="#111" strokeWidth={1.8} />
        ))}
      </ScatterChart>
    </div>
  );
}

function GoRing({ left, top, width, height, cx, cy, rOuter, rInner, rBar, sweep, grid, barTop, colors }: any) {
  const step = 360 / barTop.length;
  const arc = (i: number) => ({ startAngle: 90 - step * i, endAngle: 90 - step * i - sweep });
  const base = { dataKey: 'value', cx, cy, isAnimationActive: false, label: false };
  return (
    <div style={box(left, top)}>
      <PieChart width={width} height={height} margin={{ top: 0, right: 0, bottom: 0, left: 0 }}>
        {barTop.map((_: number, i: number) => (
          <Pie key={`g${i}`} {...base} data={[{ value: 1 }]} {...arc(i)} innerRadius={rInner} outerRadius={rOuter} fill="#B3B3B3" stroke="none" />
        ))}
        {barTop.flatMap((_: number, i: number) => grid.map((r: number) => (
          <Pie key={`l${i}-${r}`} {...base} data={[{ value: 1 }]} {...arc(i)} innerRadius={r - 1.3} outerRadius={r + 1.3} fill="#FFFFFF" stroke="none" />
        )))}
        {barTop.map((top2: number, i: number) => (
          <Pie key={`b${i}`} {...base} data={[{ value: top2 - rBar }]} {...arc(i)} innerRadius={rBar} outerRadius={top2} fill={colors[i]} stroke="#1a1a1a" strokeWidth={2} />
        ))}
      </PieChart>
    </div>
  );
}

function Dots({ left, top, width, height, down, up, r }: any) {
  const pts = (a: number[][]) => a.map(([x, y]) => ({ x, y }));
  const dot = (fill: string, stroke: string) => (p: any) => (
    <circle cx={p.cx} cy={p.cy} r={r} fill={fill} stroke={stroke} strokeWidth={1.3} />
  );
  return (
    <div style={box(left, top)}>
      <ScatterChart width={width} height={height} margin={{ top: 0, right: 0, bottom: 0, left: 0 }}>
        <XAxis type="number" dataKey="x" domain={[0, 1568]} hide />
        <YAxis type="number" dataKey="y" domain={[0, 1568]} reversed hide />
        <Scatter data={pts(down)} shape={dot('#6495ED', '#27406e')} isAnimationActive={false} />
        <Scatter data={pts(up)} shape={dot('#FF3030', '#7a1a1a')} isAnimationActive={false} />
      </ScatterChart>
    </div>
  );
}

function Venn({ top, cx, cyGreen, cyRed, r, values }: any) {
  const p = { dataKey: 'value', cx, startAngle: 90, endAngle: -270, stroke: 'none', isAnimationActive: false, label: false };
  const red = [{ value: Number(values[2][0]) }];
  const green = [{ value: Number(values[0][0]) }];
  return (
    <div style={box(0, top)}>
      <PieChart width={700} height={900} margin={{ top: 0, right: 0, bottom: 0, left: 0 }}>
        <Pie {...p} data={red} cy={cyRed} innerRadius={0} outerRadius={r} fill="rgba(255,0,0,0.5)" />
        <Pie {...p} data={red} cy={cyRed} innerRadius={r - 2.5} outerRadius={r + 2.5} fill="#000" />
        <Pie {...p} data={green} cy={cyGreen} innerRadius={0} outerRadius={r} fill="rgba(0,120,0,0.5)" />
        <Pie {...p} data={green} cy={cyGreen} innerRadius={r - 2.5} outerRadius={r + 2.5} fill="#000" />
      </PieChart>
    </div>
  );
}

const T = ({ x, y, s, size, rot = 0, weight, italic, anchor = 'middle', fill = '#111' }: any) => (
  <text
    transform={`translate(${x} ${y}) rotate(${rot})`}
    textAnchor={anchor}
    dominantBaseline="central"
    fontFamily={FONT}
    fontSize={size}
    fontWeight={weight}
    fontStyle={italic ? 'italic' : undefined}
    fill={fill}
  >
    {s}
  </text>
);

export default function App() {
  const vennPos = [[[386, 236], [394, 307]], [[391, 418], [392, 487]], [[390, 622], [389, 692]]];
  const vennPosB = [[[400, 1129], [396, 1195]], [[385, 1309], [385, 1377]], [[390, 1514], [388, 1583]]];
  return (
    <div style={{ position: 'absolute', left: 0, top: 0, width: 2797, height: 3357, background: '#fff', overflow: 'hidden' }}>
      <Venn top={0} cx={389} cyGreen={320.5} cyRed={593} r={221} values={vennA} />
      <Venn top={940} cx={389} cyGreen={277.5} cyRed={554} r={221} values={vennB} />

      <ConditionRow left={830} top={86.5} width={312.5} height={33.5} condition={conditionC} />
      <Heatmap left={830} top={129} width={312.5} height={1560} genes={genesC} z={zC} />
      <Dendrogram leafX={830} top={129} height={1560} trees={treesC} count={50} stub={35} />
      <ConditionKey left={1390} top={125} names={['09_M2_Ctrl', '10_M2_R.intestinalis']} />
      <ColorBar id="cbC" left={1396} top={272} height={494} domain={[-1.342, 1.364]} />

      <ConditionRow left={1861.6} top={86.5} width={312.5} height={31} condition={conditionD} />
      <Heatmap left={1861.6} top={128} width={312.5} height={1559} genes={genesD} z={zD} />
      <Dendrogram leafX={1861.6} top={128} height={1559} trees={treesD} count={50} stub={28.6} />
      <ConditionKey left={2411} top={126} names={['09_M2_Ctrl', '11_M2_P.stomatis']} />
      <ColorBar id="cbD" left={2421} top={270} height={491.5} domain={[-1.349, 1.359]} />

      <GoRing left={0} top={1820} width={1420} height={1400} cx={734.5} cy={687.5} rOuter={516} rInner={344} rBar={171} sweep={17} grid={eGrid} barTop={eBarTop} colors={eBarColors} />
      <Dots left={200} top={1980} width={1100} height={540} down={eTopDown} up={eTopUp} r={8} />
      <Dots left={200} top={2500} width={1100} height={540} down={eLowDown} up={eLowUp} r={8} />

      <GoRing left={1400} top={1850} width={1397} height={1350} cx={706} cy={707} rOuter={550} rInner={366} rBar={183} sweep={33} grid={fGrid} barTop={fBarTop} colors={fBarColors} />
      <Dots left={1540} top={1990} width={1130} height={570} down={fTopDown} up={fTopUp} r={9} />
      <Dots left={1540} top={2550} width={1130} height={570} down={fLowDown} up={[]} r={9} />

      {/* z-score gradient */}
      <div style={box(912, 3223)}>
        <BarChart width={330} height={69} data={[{ name: 'z', span: 1 }]} layout="vertical" margin={{ top: 0, right: 0, bottom: 0, left: 0 }} barCategoryGap={0}>
          <defs>
            <linearGradient id="zGrad" x1="0" y1="0" x2="1" y2="0">
              <stop offset="0" stopColor="#2A00FF" />
              <stop offset="0.15" stopColor="#8A50C8" />
              <stop offset="0.35" stopColor="#CC90A0" />
              <stop offset="0.5" stopColor="#EDCC60" />
              <stop offset="0.63" stopColor="#FFFF00" />
              <stop offset="1" stopColor="#FF8C00" />
            </linearGradient>
          </defs>
          <XAxis type="number" domain={[0, 1]} hide />
          <YAxis type="category" dataKey="name" hide />
          <Bar dataKey="span" fill="url(#zGrad)" isAnimationActive={false} />
        </BarChart>
      </div>

      {/* annotation layer */}
      <svg width={2797} height={3357} style={{ position: 'absolute', left: 0, top: 0 }}>
        <T x={53} y={115} s="A." size={64} weight="bold" anchor="start" fill="#000" />
        <T x={52} y={1022} s="B." size={64} weight="bold" anchor="start" fill="#000" />
        <T x={692} y={118} s="C." size={64} weight="bold" anchor="start" fill="#000" />
        <T x={1763} y={120} s="D." size={64} weight="bold" anchor="start" fill="#000" />
        <T x={56} y={1893} s="E." size={64} weight="bold" anchor="start" fill="#000" />
        <T x={1529} y={1894} s="F." size={64} weight="bold" anchor="start" fill="#000" />

        <T x={379} y={56} s="R. intestinalis" size={56.5} italic />
        <T x={382} y={847} s="P. stomatis" size={56.5} italic />
        <T x={381} y={949} s="R. intestinalis" size={56.5} italic />
        <T x={381} y={1750} s="P. stomatis" size={56.5} italic />
        {vennA.flatMap((v, i) => v.map((s, j) => <T key={`a${i}${j}`} x={vennPos[i][j][0]} y={vennPos[i][j][1]} s={s} size={55} />))}
        {vennB.flatMap((v, i) => v.map((s, j) => <T key={`b${i}${j}`} x={vennPosB[i][j][0]} y={vennPosB[i][j][1]} s={s} size={55} />))}

        <T x={1390} y={102} s="Condition" size={32.5} weight="bold" anchor="start" />
        <T x={2411} y={103} s="Condition" size={32.5} weight="bold" anchor="start" />

        {eLabels.map(([s, vx, vy, rot], i) => (
          <T key={`e${i}`} x={(vx * 1420) / 1568} y={1820 + (vy * 1400) / 1568} s={s} size={34} weight="bold" rot={rot} />
        ))}
        {fLabels.map(([s, vx, vy, rot], i) => (
          <T key={`f${i}`} x={1400 + (vx * 1397) / 1568} y={1850 + (vy * 1350) / 1568} s={s} size={34} weight="bold" rot={rot} />
        ))}

        <T x={1075} y={3182} s={'z\u2212score'} size={40} fill="#333" />
        <T x={912} y={3324} s="decreasing" size={32} fill="#444" />
        <T x={1242} y={3324} s="increasing" size={32} fill="#444" />
        <T x={1625} y={3182} s="logFC" size={41} fill="#333" />
        <rect x={1323} y={3223} width={68} height={69} fill="#F0F0F0" />
        <rect x={1656} y={3223} width={68} height={69} fill="#F0F0F0" />
        <circle cx={1358} cy={3255} r={13} fill="#6495ED" />
        <circle cx={1690} cy={3255} r={13} fill="#FF3030" />
        <T x={1409} y={3253} s="downregulated" size={34} anchor="start" fill="#444" />
        <T x={1745} y={3253} s="upregulated" size={34} anchor="start" fill="#444" />
      </svg>
    </div>
  );
}
